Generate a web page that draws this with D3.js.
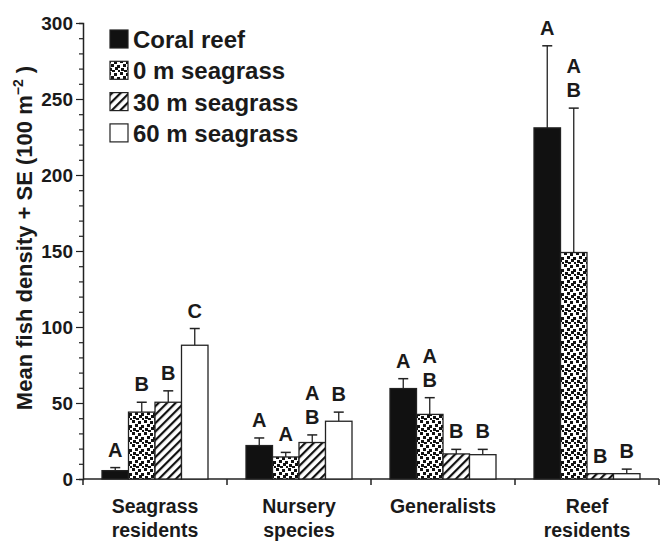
<!DOCTYPE html>
<html>
<head>
<meta charset="utf-8">
<script src="https://cdn.jsdelivr.net/npm/d3@7/dist/d3.min.js"></script>
<style>
  html, body { margin: 0; padding: 0; background: #fff; }
  svg { display: block; }
  text { font-family: "Liberation Sans", Arial, Helvetica, sans-serif; font-weight: bold; fill: #1a1a1a; }
</style>
</head>
<body>
<svg id="chart" width="660" height="541"></svg>
<script>
// ---- Data ----
const categories = [["Seagrass", "residents"], ["Nursery", "species"], ["Generalists"], ["Reef", "residents"]];
const seriesNames = ["Coral reef", "0 m seagrass", "30 m seagrass", "60 m seagrass"];
// mean values per category for each series
const coralReef = [5.5, 22, 59.5, 231];
const seagrass0 = [44, 14.5, 42.5, 149];
const seagrass30 = [50.5, 24, 16.5, 3.5];
const seagrass60 = [88, 38, 16, 3.5];
// mean + SE (top of error bar)
const coralReefSE = [7.5, 27, 66, 285];
const seagrass0SE = [50.5, 17.5, 53.5, 244];
const seagrass30SE = [58, 29, 19.5, 3.5];
const seagrass60SE = [99, 44, 19.5, 6.5];
// significance letters
const coralReefLetters = ["A", "A", "A", "A"];
const seagrass0Letters = ["B", "A", "AB", "AB"];
const seagrass30Letters = ["B", "AB", "B", "B"];
const seagrass60Letters = ["C", "B", "B", "B"];
const yTicks = [0, 50, 100, 150, 200, 250, 300];

const values = [coralReef, seagrass0, seagrass30, seagrass60];
const tops = [coralReefSE, seagrass0SE, seagrass30SE, seagrass60SE];
const letters = [coralReefLetters, seagrass0Letters, seagrass30Letters, seagrass60Letters];

// ---- Layout ----
const svg = d3.select("#chart");
const pLeft = 83, pRight = 659, pTop = 23, pBottom = 479;

const defs = svg.append("defs");
// dotted pattern
const dots = defs.append("pattern").attr("id", "dots").attr("patternUnits", "userSpaceOnUse")
  .attr("width", 12).attr("height", 12);
dots.append("rect").attr("width", 12).attr("height", 12).attr("fill", "#fff");
[[0,0],[6,1],[3,4],[9,5],[1,8],[7,7],[4,10],[10,10]].forEach(([x, yy]) =>
  dots.append("rect").attr("x", x).attr("y", yy).attr("width", 3).attr("height", 3).attr("fill", "#111"));
// hatch pattern
const hatch = defs.append("pattern").attr("id", "hatch").attr("patternUnits", "userSpaceOnUse")
  .attr("width", 6).attr("height", 6).attr("patternTransform", "rotate(45)");
hatch.append("rect").attr("width", 6).attr("height", 6).attr("fill", "#fff");
hatch.append("rect").attr("x", 0).attr("y", 0).attr("width", 2.2).attr("height", 6).attr("fill", "#111");

const fills = ["#111", "url(#dots)", "url(#hatch)", "#fff"];

const x0 = d3.scaleBand().domain(d3.range(categories.length)).range([pLeft, pRight]).paddingInner(0).paddingOuter(0);
const innerW = 106;
const x1 = d3.scaleBand().domain(d3.range(seriesNames.length)).range([0, innerW]);
const y = d3.scaleLinear().domain([0, 300]).range([pBottom, pTop]);

// Y axis
const yAxis = d3.axisLeft(y).tickValues(d3.range(0, 301, 10)).tickSize(4).tickFormat("");
const gy = svg.append("g").attr("transform", `translate(${pLeft},0)`).call(yAxis);
gy.select(".domain").attr("stroke", "#222").attr("stroke-width", 1.5);
gy.selectAll(".tick line").attr("stroke", "#222").attr("stroke-width", 1.2)
  .attr("x2", d => yTicks.includes(d) ? -7 : -4);
gy.selectAll(".tick").filter(d => yTicks.includes(d)).append("text")
  .attr("x", -10).attr("dy", "0.35em").attr("text-anchor", "end")
  .style("font-size", "19px").attr("fill", "#1a1a1a").text(d => d);

// X axis line and boundary ticks
svg.append("line").attr("x1", pLeft).attr("x2", pRight).attr("y1", pBottom).attr("y2", pBottom)
  .attr("stroke", "#222").attr("stroke-width", 1.5);
const bounds = categories.map((c, i) => x0(i)).concat([pRight]);
svg.selectAll(".xb").data(bounds).enter().append("line")
  .attr("x1", d => d).attr("x2", d => d).attr("y1", pBottom).attr("y2", pBottom + 6)
  .attr("stroke", "#222").attr("stroke-width", 1.5);

// Category labels
categories.forEach((lines, i) => {
  const cx = x0(i) + x0.bandwidth() / 2;
  const t = svg.append("text").attr("text-anchor", "middle").style("font-size", "19.5px");
  lines.forEach((ln, k) => t.append("tspan").attr("x", cx).attr("y", 513 + k * 24).text(ln));
});

// Bars
const offset = (x0.bandwidth() - innerW) / 2;
values.forEach((vals, s) => {
  const g = svg.append("g");
  vals.forEach((v, i) => {
    const bx = x0(i) + offset + x1(s);
    const bw = x1.bandwidth();
    const cx = bx + bw / 2;
    const et = tops[s][i];
    if (et > v) {
      g.append("line").attr("x1", cx).attr("x2", cx).attr("y1", y(v)).attr("y2", y(et))
        .attr("stroke", "#222").attr("stroke-width", 1.3);
    }
    g.append("line").attr("x1", cx - 5).attr("x2", cx + 5).attr("y1", y(et)).attr("y2", y(et))
      .attr("stroke", "#222").attr("stroke-width", 1.5);
    g.append("rect").attr("x", bx).attr("y", y(v)).attr("width", bw).attr("height", y(0) - y(v))
      .attr("fill", fills[s]).attr("stroke", "#222").attr("stroke-width", 1.3);
    const chars = letters[s][i].split("");
    chars.forEach((ch, k) => {
      const base = y(et) - 11 - (chars.length - 1 - k) * 24;
      g.append("text").attr("x", cx).attr("y", base).attr("text-anchor", "middle")
        .style("font-size", "20px").text(ch);
    });
  });
});

// Y axis title
svg.append("text")
  .attr("transform", `translate(32,238) rotate(-90)`)
  .attr("text-anchor", "middle").style("font-size", "22px")
  .html('Mean fish density + SE (100 m<tspan dy="-9" style="font-size:14px">−2</tspan><tspan dy="9"> )</tspan>');

// Legend
seriesNames.forEach((name, s) => {
  const by = 48 + s * 31.3;
  svg.append("rect").attr("x", 110).attr("y", by - 18).attr("width", 18).attr("height", 18)
    .attr("fill", fills[s]).attr("stroke", "#222").attr("stroke-width", 1.2);
  svg.append("text").attr("x", 133).attr("y", by).style("font-size", "24px").text(name);
});
</script>
</body>
</html>
